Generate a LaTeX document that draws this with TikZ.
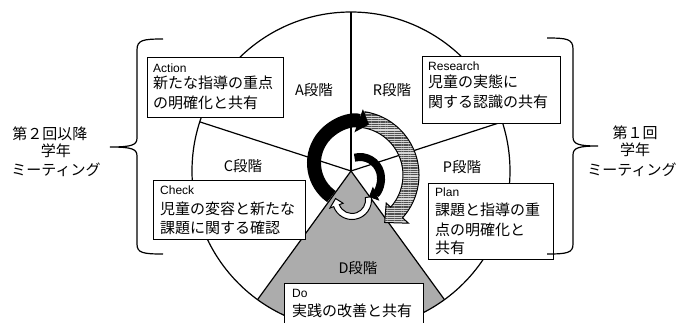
\documentclass[tikz,border=0pt]{standalone}
\usepackage{fontspec}
\setmainfont{Noto Sans CJK JP}
\newfontfamily\latinfont{Liberation Sans}
\usetikzlibrary{arrows.meta,patterns.meta}
\definecolor{sectorgray}{RGB}{172,172,172}
\definecolor{hatchgray}{RGB}{80,80,80}
\definecolor{hatchback}{RGB}{215,215,215}
\begin{document}
\begin{tikzpicture}[x=1pt,y=-1pt,
  outline/.style={line width=1.2pt,draw=black},
  box/.style={outline,fill=white,rectangle,inner sep=0pt,anchor=north west},
  jp/.style={font=\fontsize{15}{18}\selectfont,inner sep=0pt,anchor=base west},
  en/.style={font=\latinfont\fontsize{12}{14}\selectfont,inner sep=0pt,anchor=base west},
  stage/.style={font=\fontsize{14.5}{17}\selectfont,inner sep=0pt,anchor=base},
  side/.style={font=\fontsize{15}{18}\selectfont,inner sep=0pt,anchor=base},
  hatch/.style={line width=1pt,draw=black,preaction={fill=hatchback},
    pattern={Lines[angle=0,distance=2.3pt,line width=1.2pt]},pattern color=hatchgray}
]
\useasboundingbox (0,0) rectangle (681,322);
\fill[white] (0,0) rectangle (681,322);
\coordinate (O) at (351,171);
% D sector
\fill[sectorgray] (O) -- ++(54:159) arc[start angle=54,end angle=126,radius=159] -- cycle;
% circle and spokes
\draw[outline] (O) circle[radius=159];
\draw[outline] (O) -- ++(-90:159);
\draw[outline] (O) -- ++(198:159);
\draw[outline] (O) -- ++(-18:159);
\draw[outline] (O) -- ++(54:159);
\draw[outline] (O) -- ++(126:159);
% stage labels
\node[stage] (lA) at (314,95) {A段階};
\node[stage] (lR) at (392,95) {R段階};
\node[stage] (lC) at (243,171) {C段階};
\node[stage] (lP) at (462,172) {P段階};
\node[stage] (lD) at (358,273) {D段階};
% boxes
\node[box,minimum width=136pt,minimum height=60pt] (actbox) at (147,57) {};
\node[en] (act0) at (153,72) {Action};
\node[jp] (act1) at (153,88) {新たな指導の重点};
\node[jp] (act2) at (153,108) {の明確化と共有};
\node[box,minimum width=138pt,minimum height=67pt] (resbox) at (422,56) {};
\node[en] (res0) at (428,70) {Research};
\node[jp] (res1) at (428,87) {児童の実態に};
\node[jp] (res2) at (428,107) {関する認識の共有};
\node[box,minimum width=152pt,minimum height=59pt] (chkbox) at (153,180) {};
\node[en] (chk0) at (160,194) {Check};
\node[jp] (chk1) at (160,214) {児童の変容と新たな};
\node[jp] (chk2) at (160,233) {課題に関する確認};
\node[box,minimum width=125pt,minimum height=76pt] (plnbox) at (428,183) {};
\node[en] (pln0) at (435,196) {Plan};
\node[jp] (pln1) at (435,215) {課題と指導の重};
\node[jp] (pln2) at (435,235) {点の明確化と};
\node[jp] (pln3) at (435,253) {共有};
\node[box,minimum width=139pt,minimum height=50pt] (dobox) at (284,283) {};
\node[en] (do0) at (292,297) {Do};
\node[jp] (do1) at (292,316) {実践の改善と共有};
% braces
\draw[outline] (163,39) .. controls (143,39) and (137,40) .. (137,50) -- (137,138)
  .. controls (137,145) and (132,147) .. (110,147)
  .. controls (132,147) and (137,149) .. (137,156) -- (137,244)
  .. controls (137,253) and (143,254) .. (163,254);
\draw[outline] (547,38) .. controls (567,38) and (573,39) .. (573,49) -- (573,137)
  .. controls (573,144) and (578,146) .. (598,146)
  .. controls (578,146) and (573,148) .. (573,155) -- (573,244)
  .. controls (573,253) and (567,254) .. (547,254);
% side texts
\node[side] (l1) at (50,139) {第２回以降};
\node[side] (l2) at (56,156) {学年};
\node[side] (l3) at (56,175) {ミーティング};
\node[side] (r1) at (635,138) {第１回};
\node[side] (r2) at (635,155) {学年};
\node[side] (r3) at (632,175) {ミーティング};
% hatched arrow
\begin{scope}[shift={(355,175)}]
\draw[hatch] (279:64) arc[start angle=279,end angle=402,radius=64] -- (402:72) -- (418:56)
  -- (402:42) -- (402:48) arc[start angle=402,end angle=279,radius=48] -- cycle;
\end{scope}
% black outer arrow
\draw[line width=14pt,-{Triangle[width=24pt,length=11pt]}] (355,163) ++(125:41)
  arc[start angle=125,end angle=290,radius=41];
% white arrow
\begin{scope}[shift={(352,200)}]
\draw[line width=1pt,fill=white] (-10:19.5) arc[start angle=-10,end angle=160,radius=19.5]
  -- (160:23.5) -- (185:16.5) -- (160:9.5) -- (160:13.5)
  arc[start angle=160,end angle=-10,radius=13.5] -- cycle;
\end{scope}
% inner black arrow
\draw[line width=8pt,-{Triangle[width=15pt,length=8pt]}] (360,178) ++(255:21)
  arc[start angle=255,end angle=425,radius=21];
\end{tikzpicture}
\end{document}
